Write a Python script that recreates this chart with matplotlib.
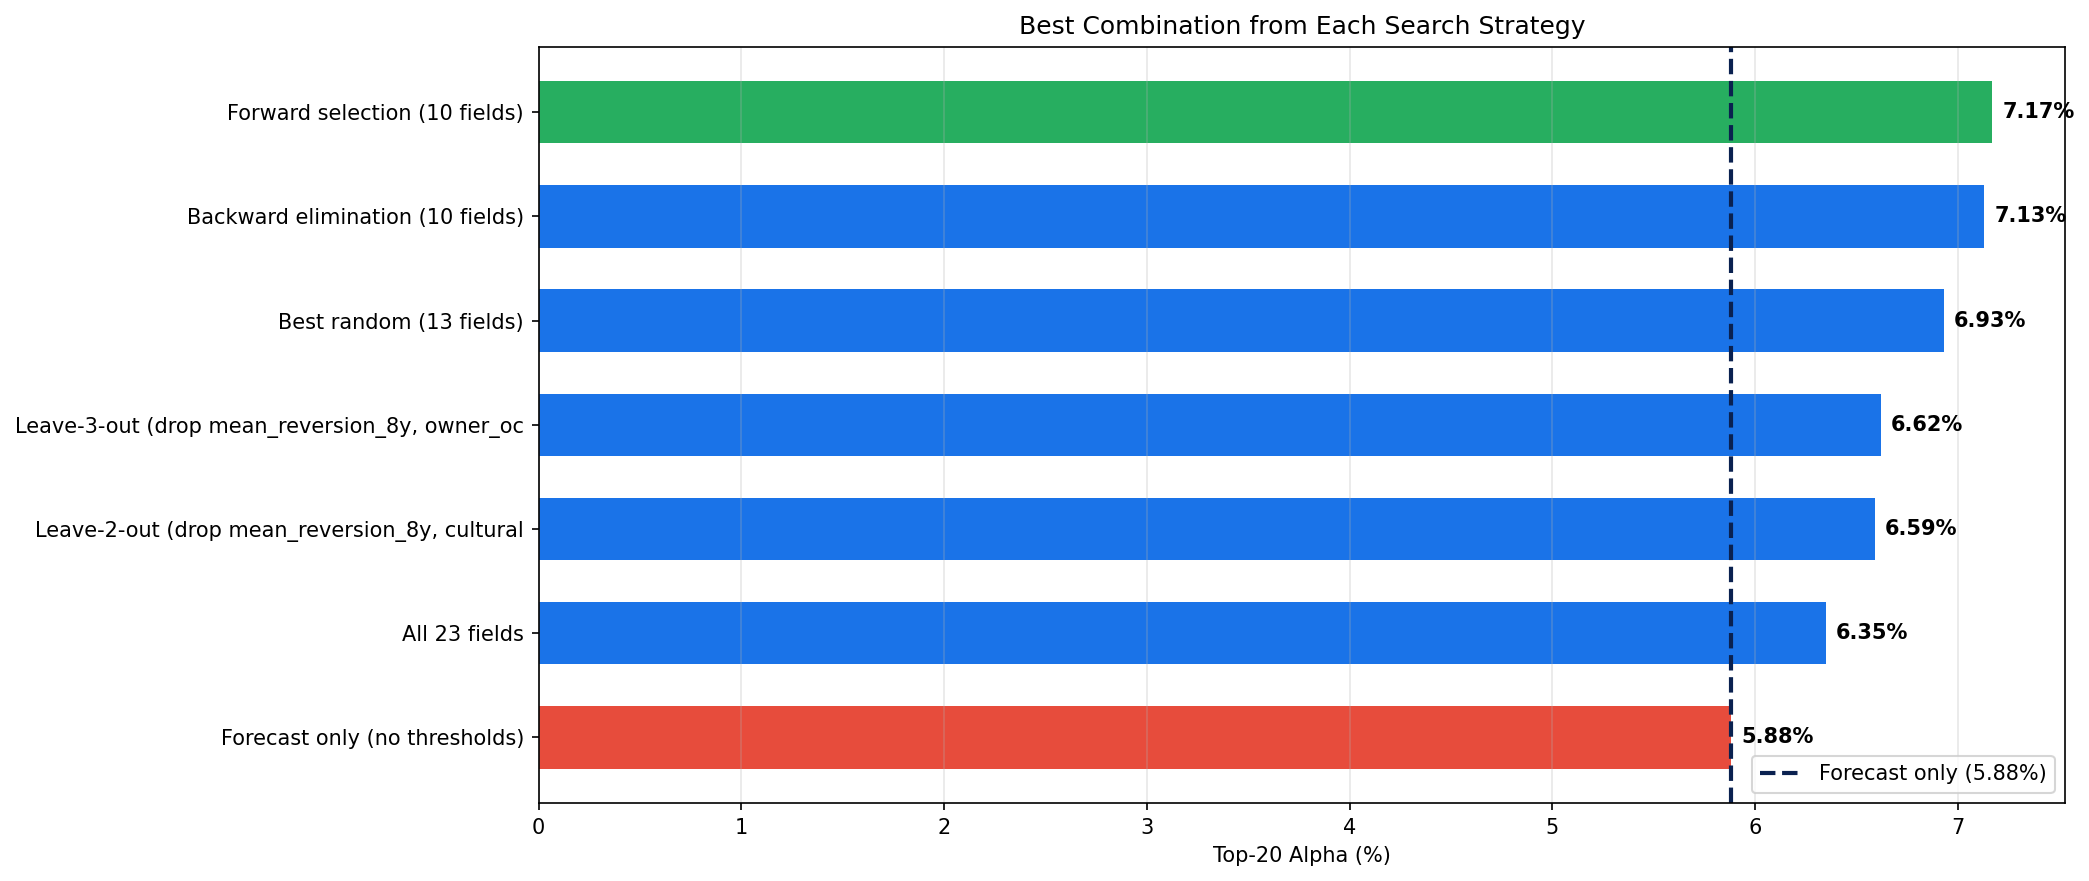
import numpy as np
import matplotlib.pyplot as plt

labels = [
    "Forecast only (no thresholds)",
    "All 23 fields",
    "Leave-2-out (drop mean_reversion_8y, cultural",
    "Leave-3-out (drop mean_reversion_8y, owner_oc",
    "Best random (13 fields)",
    "Backward elimination (10 fields)",
    "Forward selection (10 fields)",
]
alphas = [5.88, 6.35, 6.59, 6.62, 6.93, 7.13, 7.17]
baseline = 5.88

colors = ['#e74c3c'] + ['#1a73e8'] * 5 + ['#27ae60']

fig, ax = plt.subplots(figsize=(14, 6))
y = np.arange(len(labels))
ax.barh(y, alphas, height=0.6, color=colors)
ax.axvline(baseline, color='#0a2150', linestyle='--', linewidth=2,
           label=f'Forecast only ({baseline:.2f}%)')

for yi, v in zip(y, alphas):
    ax.text(v + 0.05, yi, f'{v:.2f}%', va='center', fontweight='bold', fontsize=10)

ax.set_yticks(y)
ax.set_yticklabels(labels)
ax.set_xlim(0, max(alphas) * 1.05)
ax.set_xlabel('Top-20 Alpha (%)')
ax.set_title('Best Combination from Each Search Strategy')
ax.grid(axis='x', alpha=0.3)
ax.legend(loc='lower right')

plt.tight_layout()
plt.savefig('out.png', dpi=150, bbox_inches='tight')
plt.close()
